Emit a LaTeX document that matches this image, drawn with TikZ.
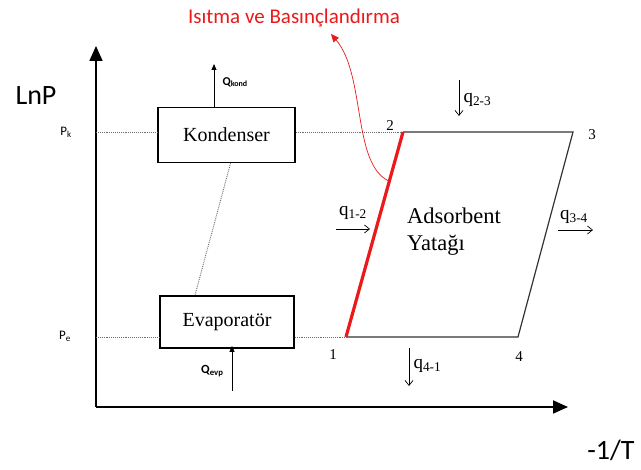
\documentclass[tikz,border=0pt]{standalone}
\usepackage{fontspec}
\setmainfont{Liberation Serif}
\newfontfamily\calib{Carlito}
\usetikzlibrary{positioning,arrows.meta,calc}
\definecolor{HeatRed}{RGB}{235,25,25}
\definecolor{DotGray}{RGB}{110,110,110}

\begin{document}
\begin{tikzpicture}[x=1pt,y=-1pt,
	unitbox/.style={draw,line width=1.7pt,minimum width=137pt,minimum height=55pt,
		font=\fontsize{20}{22}\selectfont},
	level/.style={densely dotted,line width=0.9pt,DotGray},
	axis/.style={line width=1.8pt,-{Triangle[length=15pt,width=13pt]}},
	heatflow/.style={line width=0.7pt,-{Straight Barb[length=5pt,width=8pt]}},
	qlabel/.style={font=\fontsize{19}{21}\selectfont},
	ptlabel/.style={font=\fontsize{15}{17}\selectfont}]
	
	\useasboundingbox (0,0) rectangle (641,470);
	
	% axes
	\coordinate (O) at (96,407);
	\coordinate (ytop) at (96,46);
	\coordinate (xend) at (568,407);
	\draw[axis] (O) -- (ytop);
	\draw[axis] (O) -- (xend);
	\node[font=\calib\fontsize{28}{30}\selectfont] (lnp) at (36,96) {LnP};
	\node[font=\calib\fontsize{28}{30}\selectfont] (invt) at (611,450) {-1/T};
	
	% cycle corners
	\coordinate (p1) at (346,337);
	\coordinate (p2) at (403,132);
	\coordinate (p3) at (573,132);
	\coordinate (p4) at (518,337);
	\coordinate (pk) at (96,132);
	\coordinate (pe) at (96,337);
	\node[font=\calib\fontsize{13}{15}\selectfont] (pklab) at (66,132) {P\textsubscript{k}};
	\node[font=\calib\fontsize{13}{15}\selectfont] (pelab) at (65,336) {P\textsubscript{e}};
	
	% units
	\node[unitbox] (kond) at (226.5,135) {Kondenser};
	\node[unitbox,minimum width=134pt,minimum height=52pt] (evap) at (227,322) {Evaporatör};
	
	% pressure levels
	\draw[level] (pk) -- (kond.west |- p2);
	\draw[level] (kond.east |- p2) -- (p2);
	\draw[level] (pe) -- (evap.west |- p1);
	\draw[level] (evap.east |- p1) -- (p1);
	\draw[level] ([xshift=4pt]kond.south) -- ([xshift=-32pt]evap.north);
	
	% cycle
	\draw[line width=1.2pt,black!80] (p2) -- (p3) -- (p4) -- (p1);
	\draw[HeatRed,line width=3.2pt] (p1) -- (p2);
	\node[ptlabel] (n1) at (333,355) {1};
	\node[ptlabel] (n2) at (390,126) {2};
	\node[ptlabel] (n3) at (592,135) {3};
	\node[ptlabel] (n4) at (519,357) {4};
	\node[font=\fontsize{22.5}{27}\selectfont,align=left,anchor=west,inner sep=0pt] (bed) at (407,232)
	{Adsorbent\\ Yatağı};
	
	% heat in and out
	\coordinate (kq) at (214,64);
	\draw[line width=0.8pt,-{Triangle[length=6pt,width=5pt]}] (kond.north -| kq) -- (kq);
	\node[font=\calib\bfseries\fontsize{12}{14}\selectfont,anchor=west] (qk) at (219,82) {Q\textsubscript{kond}};
	\coordinate (eq) at (232,391);
	\draw[line width=0.8pt,-{Triangle[length=6pt,width=5pt]}] (eq) -- ([yshift=3pt]evap.south -| eq);
	\node[font=\calib\bfseries\fontsize{12.5}{14}\selectfont,anchor=east] (qe) at (227,371) {Q\textsubscript{evp}};
	
	\coordinate (a23) at (459,80);
	\coordinate (b23) at (459,116);
	\draw[heatflow] (a23) -- (b23);
	\node[qlabel,anchor=west] (q23) at (460,100) {q\textsubscript{2-3}};
	\coordinate (a12) at (336,229);
	\coordinate (b12) at (370,229);
	\draw[heatflow] (a12) -- (b12);
	\node[qlabel] (q12) at (353,213) {q\textsubscript{1-2}};
	\coordinate (a34) at (558,230);
	\coordinate (b34) at (593,230);
	\draw[heatflow] (a34) -- (b34);
	\node[qlabel] (q34) at (574,217) {q\textsubscript{3-4}};
	\coordinate (a41) at (409,348);
	\coordinate (b41) at (409,386);
	\draw[heatflow] (a41) -- (b41);
	\node[qlabel,anchor=west] (q41) at (410,366) {q\textsubscript{4-1}};
	
	% heating note
	\node[font=\calib\fontsize{21}{24}\selectfont,text=HeatRed] (note) at (294,18)
	{Isıtma ve Basınçlandırma};
	\coordinate (notetip) at (331,34);
	\draw[HeatRed,line width=0.7pt,-{Triangle[length=8pt,width=7pt]}]
	($(p1)!0.76!(p2)$) .. controls (352,165) and (366,75) .. (notetip);
	
\end{tikzpicture}
\end{document}
